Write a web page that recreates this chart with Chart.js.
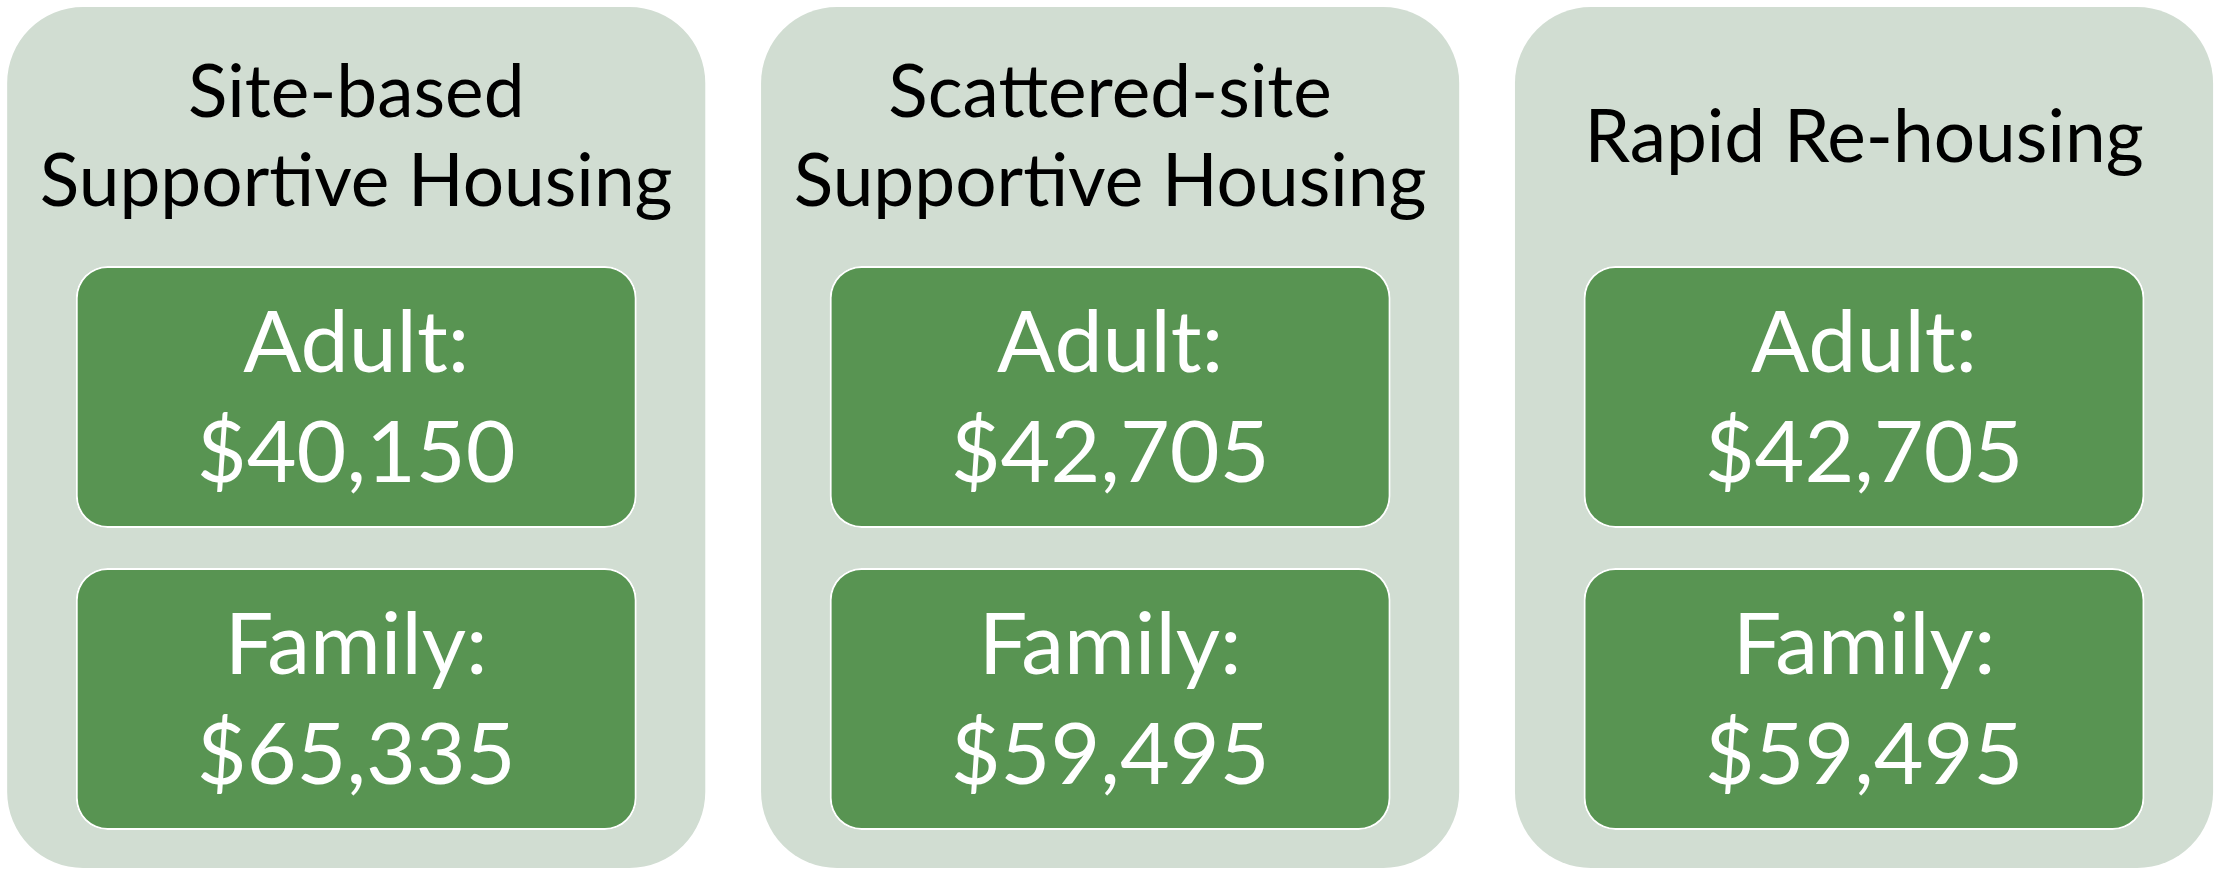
<!DOCTYPE html>
<html>
<head>
<meta charset="utf-8">
<script src="https://cdn.jsdelivr.net/npm/chart.js@4"></script>
<style>
  html, body { margin: 0; padding: 0; background: #ffffff; }
  canvas { display: block; }
</style>
</head>
<body>
<canvas id="costChart" width="2221" height="871"></canvas>
<script>
// program categories (title lines per panel)
const programs = [
    ["Site-based", "Supportive Housing"],
    ["Scattered-site", "Supportive Housing"],
    ["Rapid Re-housing"],
];
const adultCost = [40150, 42705, 42705];
const familyCost = [65335, 59495, 59495];
const groupLabels = ["Adult:", "Family:"];

// layout bands on the vertical scale (0 = top)
const panelBand = [7, 868];
const adultBand = [266, 528];
const familyBand = [568, 830];
const titleCenter = 136;

const money = (v) => "$" + v.toLocaleString("en-US");

const textPlugin = {
    id: "boxText",
    afterDatasetsDraw(chart) {
        const ctx = chart.ctx;
        const y = chart.scales.y;
        ctx.save();
        ctx.textAlign = "center";
        ctx.textBaseline = "middle";

        // panel titles
        const panels = chart.getDatasetMeta(0).data;
        ctx.fillStyle = "#000000";
        ctx.font = "73px Lato";
        panels.forEach((el, i) => {
            const lines = programs[i];
            const lh = 89;
            const cy = y.getPixelForValue(titleCenter);
            lines.forEach((t, k) => {
                ctx.fillText(t, el.x, cy + 2 + (k - (lines.length - 1) / 2) * lh);
            });
        });

        // cost boxes
        ctx.fillStyle = "#ffffff";
        ctx.font = "86px Lato";
        [adultCost, familyCost].forEach((vals, d) => {
            chart.getDatasetMeta(d + 1).data.forEach((el, i) => {
                const cy = (el.y + el.base) / 2;
                ctx.fillText(groupLabels[d], el.x, cy - 53);
                ctx.fillText(money(vals[i]), el.x, cy + 57);
            });
        });
        ctx.restore();
    },
};

const idx = programs.map((p, i) => i);

new Chart(document.getElementById("costChart"), {
    type: "bar",
    data: {
        datasets: [
            {
                label: "Program",
                data: idx.map((i) => ({ x: i, y: panelBand })),
                backgroundColor: "#d1ddd2",
                borderWidth: 0,
                borderRadius: 76,
                borderSkipped: false,
                barPercentage: 0.926,
                categoryPercentage: 1,
                order: 2, // drawn underneath the cost boxes
            },
            {
                label: "Adult",
                data: idx.map((i) => ({ x: i, y: adultBand })),
                backgroundColor: "#589452",
                borderColor: "#ffffff",
                borderWidth: 2,
                borderRadius: 32,
                borderSkipped: false,
                barPercentage: 0.744,
                categoryPercentage: 1,
                order: 1,
            },
            {
                label: "Family",
                data: idx.map((i) => ({ x: i, y: familyBand })),
                backgroundColor: "#589452",
                borderColor: "#ffffff",
                borderWidth: 2,
                borderRadius: 32,
                borderSkipped: false,
                barPercentage: 0.744,
                categoryPercentage: 1,
                order: 1,
            },
        ],
    },
    options: {
        responsive: false,
        animation: false,
        events: [],
        layout: { padding: 0 },
        datasets: { bar: { grouped: false } },
        plugins: {
            legend: { display: false },
            tooltip: { enabled: false },
        },
        scales: {
            x: {
                type: "linear",
                min: -0.4725,
                max: 2.4735,
                offset: false,
                display: false,
                // one tick per program so the bar slot spans the full spacing
                afterBuildTicks: (scale) => {
                    scale.ticks = idx.map((v) => ({ value: v }));
                },
            },
            y: {
                min: 0,
                max: 871,
                reverse: true,
                display: false,
            },
        },
    },
    plugins: [textPlugin],
});
</script>
</body>
</html>
